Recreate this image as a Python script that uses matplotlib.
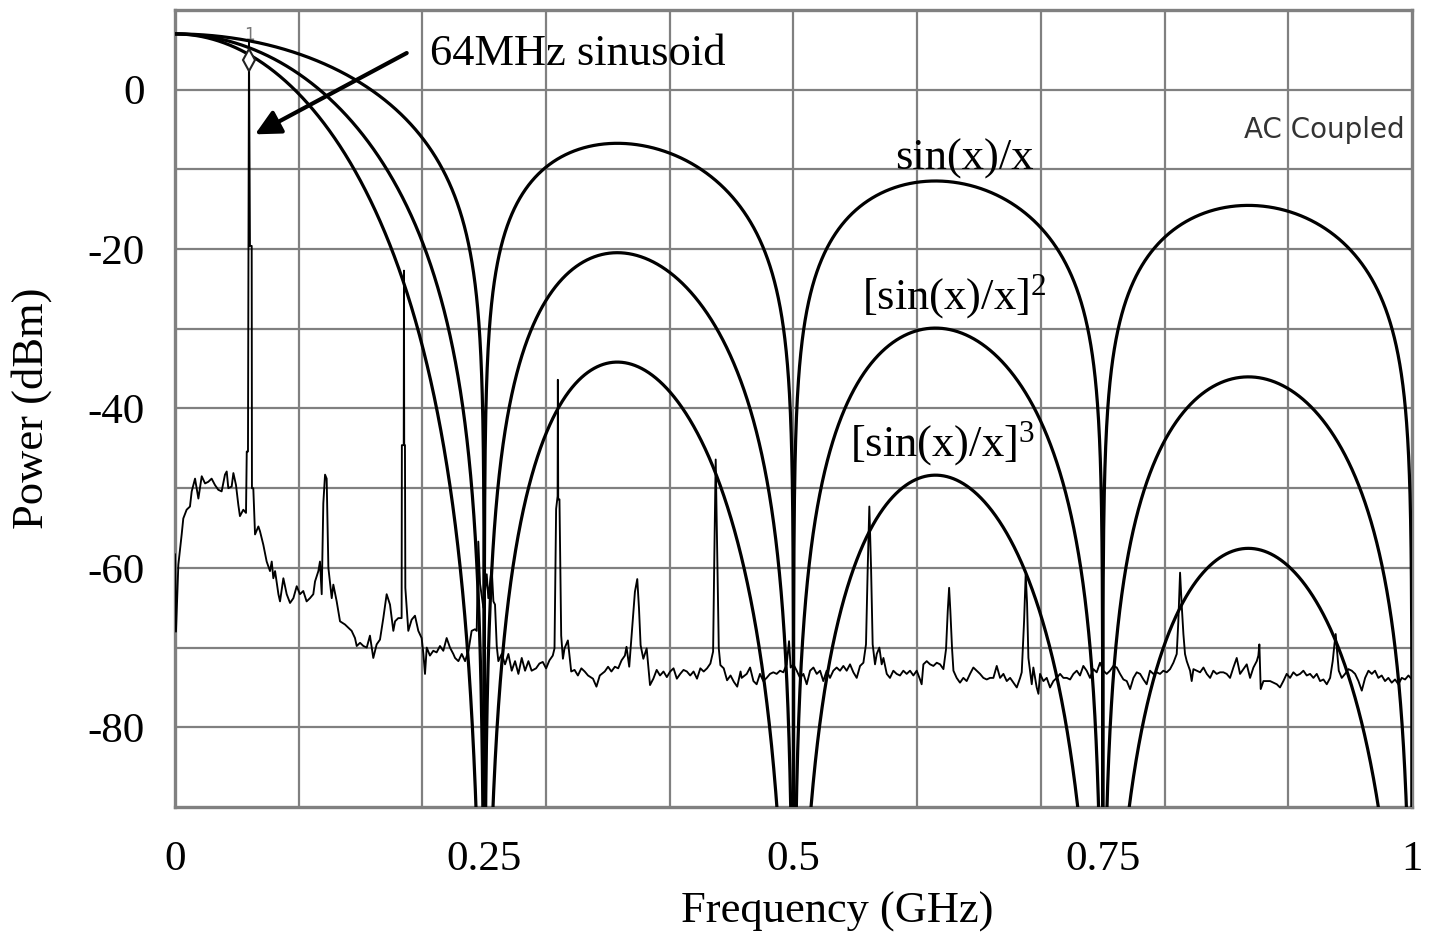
import numpy as np
import matplotlib
matplotlib.use("Agg")
import matplotlib.pyplot as plt

# ---------------- data ----------------
# measured spectrum trace (GHz, dBm)
freq_ghz = [
    0.0000, 0.0008, 0.0027, 0.0054, 0.0067, 0.0094, 0.0121, 0.0135, 0.0162, 0.0175,
    0.0189, 0.0216, 0.0243, 0.0269, 0.0296, 0.0323, 0.0350, 0.0377, 0.0404, 0.0418,
    0.0431, 0.0458, 0.0472, 0.0493, 0.0512, 0.0525, 0.0552, 0.0574, 0.0580, 0.0590,
    0.0598, 0.0604, 0.0606, 0.0620, 0.0622, 0.0633, 0.0647, 0.0674, 0.0687, 0.0714,
    0.0741, 0.0768, 0.0782, 0.0795, 0.0809, 0.0836, 0.0849, 0.0876, 0.0903, 0.0930,
    0.0957, 0.0984, 0.1010, 0.1037, 0.1064, 0.1091, 0.1118, 0.1132, 0.1159, 0.1172,
    0.1186, 0.1199, 0.1213, 0.1226, 0.1240, 0.1267, 0.1280, 0.1307, 0.1334, 0.1374,
    0.1401, 0.1428, 0.1455, 0.1469, 0.1496, 0.1523, 0.1550, 0.1576, 0.1603, 0.1630,
    0.1657, 0.1684, 0.1711, 0.1738, 0.1765, 0.1779, 0.1805, 0.1832, 0.1834, 0.1849,
    0.1851, 0.1853, 0.1859, 0.1862, 0.1886, 0.1913, 0.1940, 0.1967, 0.1994, 0.2008,
    0.2021, 0.2035, 0.2061, 0.2088, 0.2115, 0.2142, 0.2169, 0.2196, 0.2223, 0.2250,
    0.2264, 0.2291, 0.2318, 0.2345, 0.2372, 0.2398, 0.2425, 0.2439, 0.2452, 0.2466,
    0.2493, 0.2520, 0.2533, 0.2560, 0.2574, 0.2587, 0.2601, 0.2614, 0.2641, 0.2668,
    0.2695, 0.2722, 0.2749, 0.2776, 0.2803, 0.2830, 0.2857, 0.2883, 0.2919, 0.2946,
    0.2973, 0.3000, 0.3027, 0.3054, 0.3068, 0.3081, 0.3093, 0.3095, 0.3098, 0.3108,
    0.3122, 0.3136, 0.3149, 0.3176, 0.3203, 0.3230, 0.3257, 0.3285, 0.3312, 0.3339,
    0.3379, 0.3407, 0.3434, 0.3474, 0.3501, 0.3528, 0.3556, 0.3583, 0.3610, 0.3637,
    0.3650, 0.3672, 0.3691, 0.3718, 0.3737, 0.3751, 0.3764, 0.3786, 0.3813, 0.3840,
    0.3867, 0.3894, 0.3921, 0.3949, 0.3976, 0.4003, 0.4030, 0.4057, 0.4084, 0.4111,
    0.4138, 0.4165, 0.4192, 0.4220, 0.4247, 0.4274, 0.4301, 0.4328, 0.4350, 0.4360,
    0.4371, 0.4382, 0.4396, 0.4409, 0.4436, 0.4463, 0.4491, 0.4518, 0.4545, 0.4572,
    0.4581, 0.4622, 0.4649, 0.4676, 0.4702, 0.4729, 0.4756, 0.4783, 0.4810, 0.4837,
    0.4864, 0.4891, 0.4918, 0.4945, 0.4964, 0.4977, 0.4999, 0.5026, 0.5053, 0.5080,
    0.5107, 0.5134, 0.5161, 0.5188, 0.5215, 0.5241, 0.5268, 0.5295, 0.5322, 0.5349,
    0.5376, 0.5403, 0.5430, 0.5457, 0.5484, 0.5511, 0.5538, 0.5565, 0.5586, 0.5600,
    0.5613, 0.5627, 0.5640, 0.5659, 0.5673, 0.5694, 0.5713, 0.5727, 0.5754, 0.5780,
    0.5807, 0.5834, 0.5861, 0.5888, 0.5915, 0.5942, 0.5969, 0.5996, 0.6023, 0.6036,
    0.6050, 0.6077, 0.6104, 0.6131, 0.6158, 0.6185, 0.6212, 0.6233, 0.6247, 0.6258,
    0.6268, 0.6282, 0.6293, 0.6319, 0.6346, 0.6373, 0.6400, 0.6427, 0.6454, 0.6481,
    0.6508, 0.6535, 0.6562, 0.6589, 0.6616, 0.6643, 0.6670, 0.6697, 0.6724, 0.6751,
    0.6778, 0.6805, 0.6832, 0.6845, 0.6864, 0.6877, 0.6888, 0.6899, 0.6912, 0.6926,
    0.6939, 0.6966, 0.6980, 0.6993, 0.7020, 0.7047, 0.7074, 0.7101, 0.7128, 0.7155,
    0.7182, 0.7209, 0.7236, 0.7263, 0.7290, 0.7316, 0.7343, 0.7370, 0.7397, 0.7424,
    0.7451, 0.7478, 0.7505, 0.7532, 0.7559, 0.7586, 0.7613, 0.7640, 0.7667, 0.7694,
    0.7721, 0.7748, 0.7775, 0.7802, 0.7829, 0.7855, 0.7882, 0.7909, 0.7936, 0.7963,
    0.7990, 0.8017, 0.8044, 0.8071, 0.8098, 0.8111, 0.8125, 0.8138, 0.8152, 0.8165,
    0.8179, 0.8206, 0.8219, 0.8233, 0.8260, 0.8287, 0.8314, 0.8341, 0.8368, 0.8394,
    0.8421, 0.8448, 0.8475, 0.8502, 0.8529, 0.8556, 0.8583, 0.8610, 0.8637, 0.8664,
    0.8691, 0.8718, 0.8745, 0.8758, 0.8766, 0.8777, 0.8799, 0.8826, 0.8853, 0.8880,
    0.8907, 0.8933, 0.8960, 0.8987, 0.9014, 0.9041, 0.9068, 0.9095, 0.9122, 0.9149,
    0.9176, 0.9203, 0.9230, 0.9257, 0.9284, 0.9311, 0.9338, 0.9359, 0.9373, 0.9383,
    0.9394, 0.9408, 0.9432, 0.9459, 0.9486, 0.9513, 0.9540, 0.9567, 0.9594, 0.9621,
    0.9648, 0.9675, 0.9701, 0.9728, 0.9755, 0.9782, 0.9809, 0.9836, 0.9863, 0.9890,
    0.9917, 0.9944, 0.9971, 1.0000,
]
power_dbm = [
    -58.3, -68.0, -59.6, -55.8, -53.8, -52.7, -52.3, -50.4, -48.8, -50.0,
    -51.3, -48.5, -49.4, -49.2, -48.8, -49.6, -50.2, -50.4, -48.3, -47.9,
    -50.0, -49.8, -48.1, -49.6, -52.1, -53.5, -52.7, -53.1, -45.4, -45.4,
    6.0, -14.0, -19.6, -19.6, -50.0, -50.0, -55.8, -54.8, -55.4, -57.1,
    -59.2, -60.4, -59.2, -61.3, -60.4, -63.3, -64.2, -61.3, -63.3, -64.4,
    -63.8, -62.3, -63.3, -62.9, -64.2, -63.8, -63.3, -61.7, -60.4, -59.2,
    -63.3, -51.9, -48.3, -48.8, -60.0, -63.8, -62.1, -64.2, -66.7, -67.1,
    -67.5, -67.9, -68.8, -69.8, -69.4, -69.8, -70.0, -68.5, -71.3, -69.6,
    -69.0, -66.3, -63.3, -64.6, -67.9, -66.7, -66.3, -66.3, -44.6, -44.6,
    -22.7, -44.6, -44.6, -62.5, -67.9, -66.5, -66.0, -67.9, -68.8, -70.8,
    -73.3, -70.0, -71.0, -70.4, -70.6, -69.8, -70.4, -68.8, -70.0, -70.8,
    -71.3, -71.7, -70.8, -71.7, -70.4, -67.9, -67.7, -67.9, -56.7, -62.0,
    -65.0, -60.8, -63.8, -60.0, -64.2, -64.6, -69.8, -71.7, -70.8, -72.1,
    -70.8, -72.9, -71.7, -73.3, -71.3, -72.9, -71.7, -72.9, -72.6, -72.0,
    -71.8, -72.6, -71.6, -71.0, -70.1, -52.6, -51.0, -36.4, -51.4, -51.4,
    -68.5, -71.4, -70.1, -69.1, -73.0, -72.8, -73.5, -72.6, -73.0, -73.5,
    -73.9, -74.9, -73.5, -73.0, -72.4, -73.0, -72.4, -72.6, -71.6, -71.0,
    -69.9, -72.4, -68.5, -63.0, -61.4, -65.1, -69.7, -71.4, -70.1, -74.7,
    -73.9, -72.8, -73.5, -73.0, -73.7, -73.0, -72.6, -73.9, -73.3, -72.8,
    -73.0, -73.5, -73.0, -73.9, -72.6, -73.0, -72.6, -72.0, -70.5, -58.5,
    -46.4, -57.2, -70.1, -72.2, -72.6, -74.1, -73.5, -74.3, -74.9, -73.0,
    -73.8, -73.3, -72.5, -74.2, -74.6, -73.3, -74.2, -73.8, -73.3, -73.1,
    -73.3, -72.9, -73.1, -72.1, -69.2, -72.5, -72.1, -72.9, -73.8, -73.3,
    -74.6, -72.9, -72.5, -73.3, -72.9, -74.2, -72.9, -73.8, -72.9, -72.5,
    -72.9, -72.3, -72.9, -72.1, -73.1, -73.8, -72.3, -71.9, -69.6, -60.0,
    -52.3, -60.0, -69.6, -72.1, -70.8, -70.0, -72.1, -71.3, -73.3, -73.8,
    -72.9, -73.3, -73.5, -72.9, -73.3, -72.9, -73.5, -72.9, -74.0, -74.6,
    -72.1, -71.7, -72.1, -72.3, -71.9, -72.1, -72.7, -70.2, -65.4, -62.5,
    -65.4, -70.2, -72.9, -73.8, -74.4, -73.8, -74.2, -73.3, -72.5, -72.9,
    -73.3, -73.8, -74.0, -73.8, -73.8, -72.3, -73.8, -73.3, -74.2, -73.8,
    -74.4, -75.0, -73.8, -73.1, -66.7, -60.8, -64.4, -71.3, -72.9, -74.6,
    -72.5, -75.0, -75.8, -73.3, -74.2, -73.8, -75.0, -74.2, -73.8, -73.3,
    -73.8, -73.8, -74.0, -73.3, -72.9, -73.5, -72.3, -72.9, -73.8, -72.7,
    -73.1, -71.9, -72.9, -73.3, -72.9, -72.3, -72.5, -73.3, -74.0, -74.2,
    -75.2, -73.8, -73.1, -73.3, -74.0, -74.6, -72.9, -73.3, -73.1, -73.3,
    -72.9, -73.1, -72.7, -71.9, -70.8, -66.7, -60.6, -64.6, -68.3, -70.8,
    -71.7, -72.9, -74.2, -72.7, -72.9, -73.1, -72.5, -73.3, -73.8, -72.9,
    -73.3, -73.1, -73.1, -73.3, -73.8, -72.5, -71.3, -73.3, -72.7, -72.1,
    -73.8, -72.5, -71.7, -71.0, -69.6, -75.2, -74.2, -74.2, -74.2, -74.4,
    -74.6, -75.0, -74.2, -73.3, -73.8, -73.1, -73.5, -73.3, -72.9, -73.5,
    -73.3, -73.8, -73.3, -74.2, -74.0, -74.6, -73.8, -71.7, -69.6, -68.3,
    -70.4, -72.9, -73.8, -73.3, -72.7, -72.9, -73.3, -74.2, -75.4, -73.8,
    -72.9, -73.3, -72.9, -73.8, -73.5, -74.2, -73.8, -74.4, -74.0, -74.6,
    -73.8, -74.0, -73.5, -74.0,
]

# theoretical roll-off curves (parameters)
sinc_labels = ["sin(x)/x", "[sin(x)/x]$^{\\mathregular{2}}$", "[sin(x)/x]$^{\\mathregular{3}}$"]
sinc_orders = [1, 2, 3]
sinc_peak_dbm = 7.0
sinc_null_spacing_ghz = 0.25
sinc_db_scale = 1.035

# marker on the 64 MHz tone
marker_freq = 0.0598
marker_power = 3.7

# axes
x_ticks = [0, 0.25, 0.5, 0.75, 1]
x_tick_labels = ["0", "0.25", "0.5", "0.75", "1"]
y_ticks = [0, -20, -40, -60, -80]
y_tick_labels = ["0", "-20", "-40", "-60", "-80"]
grid_x = [0.1, 0.2, 0.3, 0.4, 0.5, 0.6, 0.7, 0.8, 0.9]
grid_y = [-80, -70, -60, -50, -40, -30, -20, -10, 0]

# ---------------- drawing ----------------
plt.rcParams["font.family"] = ["Liberation Serif", "DejaVu Serif"]
plt.rcParams["mathtext.fontset"] = "custom"
plt.rcParams["mathtext.rm"] = "Liberation Serif"
plt.rcParams["mathtext.it"] = "Liberation Serif:italic"

fig = plt.figure(figsize=(14.34, 9.42), dpi=100)
ax = fig.add_axes([175 / 1434, 1 - 807 / 942, 1237 / 1434, 797 / 942])
ax.set_xlim(0, 1)
ax.set_ylim(-90, 10)

grid_color = "#808080"
for gx in grid_x:
    ax.axvline(gx, color=grid_color, lw=1.6, zorder=1)
for gy in grid_y:
    ax.axhline(gy, color=grid_color, lw=1.6, zorder=1)

for sp in ax.spines.values():
    sp.set_color(grid_color)
    sp.set_linewidth(2.4)

# measured trace
ax.plot(freq_ghz, power_dbm, color="black", lw=1.35, zorder=3)

# sinc^n curves
f_dense = np.linspace(0, 1, 8001)
s = np.abs(np.sinc(f_dense / sinc_null_spacing_ghz))
s = np.maximum(s, 1e-12)
for n in sinc_orders:
    curve = sinc_peak_dbm + 20 * n * sinc_db_scale * np.log10(s)
    ax.plot(f_dense, curve, color="black", lw=2.3, zorder=4)

# marker
ax.plot([marker_freq], [marker_power], marker="d", ms=11, mfc="white",
        mec="#222222", mew=1.5, zorder=5)
ax.text(marker_freq, 6.9, "1", fontsize=12, color="#777777", ha="center",
        va="center", family=["DejaVu Sans"], zorder=2)

# ticks
ax.set_xticks(x_ticks)
ax.set_xticklabels(x_tick_labels, fontsize=31)
ax.set_yticks(y_ticks)
ax.set_yticklabels(y_tick_labels, fontsize=31)
ax.tick_params(axis="both", length=0)
ax.tick_params(axis="x", pad=24)
ax.tick_params(axis="y", pad=22)

ax.set_xlabel("Frequency (GHz)", fontsize=32, va="center")
ax.xaxis.set_label_coords(0.535, -0.1317)
ax.set_ylabel("Power (dBm)", fontsize=32, va="center")
ax.yaxis.set_label_coords(-0.1156, 0.5)

# annotations
ax.text(0.2061, 3.1, "64MHz sinusoid", fontsize=32, ha="left", va="baseline", zorder=6)
ax.annotate("", xy=(0.0647, -5.6), xytext=(0.1873, 4.6),
            arrowprops=dict(arrowstyle="-|>", color="black", lw=3,
                            mutation_scale=38, shrinkA=0, shrinkB=0),
            zorder=6)
label_pos = [(0.582, -10.0), (0.5554, -27.5), (0.5457, -45.9)]
for lab, (lx, ly) in zip(sinc_labels, label_pos):
    ax.text(lx, ly, lab, fontsize=32, ha="left", va="baseline", zorder=6)

ax.text(0.9943, -5.1, "AC Coupled", fontsize=20, color="#333333", ha="right",
        va="center", family=["DejaVu Sans"], zorder=6)

fig.savefig("out.png", dpi=100)
